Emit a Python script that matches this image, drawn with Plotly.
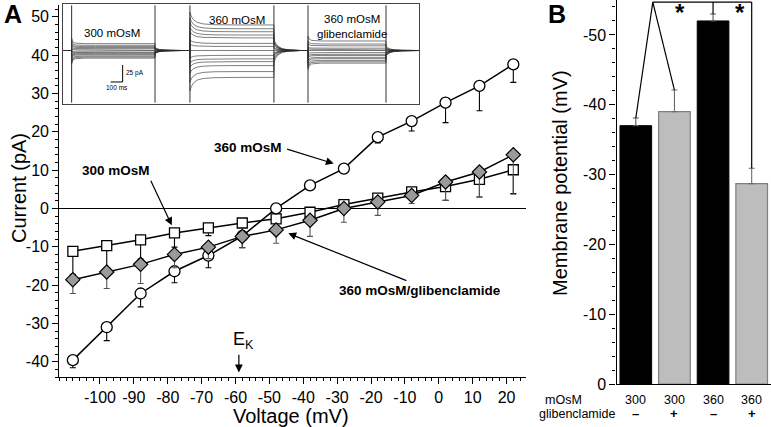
import plotly.graph_objects as go

W, H_REF = 771, 427
H_FIG = 436          # page is captured slightly taller than the window and squeezed to 427
FONT = "Liberation Sans, Arial, Helvetica, sans-serif"

# ------------------------- data: panel A (I-V) -------------------------
voltage = [-108, -98, -88, -78, -68, -58, -48, -38, -28, -18, -8, 2, 12, 22]
i_300 = [-11.2, -9.7, -8.2, -6.4, -5.1, -3.8, -2.7, -1.0, 1.0, 2.7, 4.3, 5.7, 7.6, 10.1]
err_300 = [6.0, 6.0, 5.0, 3.7, 2.0, 1.0, 0.8, 0.6, 0.8, 1.2, 1.5, 3.6, 4.6, 6.2]
i_360 = [-39.6, -31.0, -22.2, -16.4, -12.3, -7.2, 0.0, 6.0, 10.4, 18.6, 22.8, 27.6, 32.0, 37.6]
err_360 = [2.0, 3.5, 3.5, 3.0, 3.2, 3.0, 0.3, 0.3, 0.3, 1.5, 2.6, 5.2, 6.5, 4.7]
i_glib = [-18.6, -16.6, -14.6, -12.0, -10.1, -7.3, -5.6, -3.1, 0.0, 1.7, 3.4, 6.9, 9.5, 14.0]
err_glib = [3.6, 4.3, 5.0, 3.5, 3.0, 3.0, 3.5, 4.2, 3.6, 3.5, 2.1, 4.8, 6.5, 10.3]
E_K = -59

volt_ticks = [-100, -90, -80, -70, -60, -50, -40, -30, -20, -10, 0, 10, 20]
volt_labels = ["-100", "-90", "-80", "-70", "-60", "-50", "-40", "-30", "-20", "-10", "0", "10", "20"]
cur_ticks = [-40, -30, -20, -10, 0, 10, 20, 30, 40, 50]
cur_labels = ["-40", "-30", "-20", "-10", "0", "10", "20", "30", "40", "50"]

# ------------------------- data: inset (current traces) -------------------------
inset_names = ["300 mOsM", "360 mOsM", "360 mOsM<br>glibenclamide"]
inset_levels = [i_300, i_360, i_glib]          # steady-state current of each sweep (pA)
inset_start = [0, 992, 1975]                   # ms
inset_on = [72, 1058, 2042]
inset_off = [767, 1758, 2692]
inset_end = [1000, 1975, 2967]
relax_t = [0, 10, 30, 60, 110, 200, 400]       # ms after step onset
relax_f = [[1.8, 1.25, 1.08, 1.02, 1.0, 1.0, 1.0],
           [1.5, 1.35, 1.2, 1.1, 1.04, 1.01, 1.0],
           [1.5, 1.2, 1.06, 1.02, 1.0, 1.0, 1.0]]
tail_t = [0, 12, 35, 70, 130, 220]             # ms after step offset
tail_f = [0.45, 0.3, 0.16, 0.07, 0.02, 0.0]

# ------------------------- data: panel B -------------------------
b_mosm = ["300", "300", "360", "360"]
b_glib = ["\u2013", "+", "\u2013", "+"]
vm = [-37.0, -39.0, -52.0, -28.7]
vm_err = [1.1, 3.1, 1.0, 2.2]
vm_ticks = [0, -10, -20, -30, -40, -50]
vm_labels = ["0", "-10", "-20", "-30", "-40", "-50"]


def px(x):
    return x / W


def py(y):
    return 1 - y / H_REF


fig = go.Figure()

# ---------------- Panel A traces ----------------
n = len(voltage)
fig.add_trace(go.Scatter(
    x=voltage, y=i_300, mode="lines+markers", xaxis="x", yaxis="y",
    line=dict(color="black", width=1.5),
    marker=dict(symbol="square", size=10, color="white", line=dict(color="black", width=1.3)),
    error_y=dict(type="data", symmetric=False, array=[0] * n, arrayminus=err_300,
                 color="black", thickness=1.1, width=3)))
fig.add_trace(go.Scatter(
    x=voltage, y=i_360, mode="lines+markers", xaxis="x", yaxis="y",
    line=dict(color="black", width=1.5),
    marker=dict(symbol="circle", size=11, color="white", line=dict(color="black", width=1.3)),
    error_y=dict(type="data", symmetric=False, array=[0] * n, arrayminus=err_360,
                 color="black", thickness=1.1, width=3)))
fig.add_trace(go.Scatter(
    x=voltage, y=i_glib, mode="lines+markers", xaxis="x", yaxis="y",
    line=dict(color="black", width=1.5),
    marker=dict(symbol="diamond", size=11, color="#9a9a9a", line=dict(color="black", width=1.2)),
    error_y=dict(type="data", symmetric=False, array=[0] * n, arrayminus=err_glib,
                 color="#555555", thickness=1.1, width=3)))

# ---------------- Inset traces ----------------
Y3 = [-78.7, 68.4]
for k in range(3):
    xs, ys = [], []
    for lvl in inset_levels[k]:
        xs += [inset_start[k], inset_on[k]] + [inset_on[k] + t for t in relax_t] + [inset_off[k]] \
              + [inset_off[k] + t for t in tail_t] + [inset_end[k], None]
        ys += [0, 0] + [lvl * f for f in relax_f[k]] + [lvl] + [lvl * f for f in tail_f] + [0, None]
    fig.add_trace(go.Scatter(x=xs, y=ys, mode="lines", xaxis="x3", yaxis="y3",
                             line=dict(color="#2a2a2a", width=0.6), hoverinfo="skip"))
    sx = [inset_on[k], inset_on[k], None, inset_off[k], inset_off[k], None]
    sy = [Y3[0] + 2, Y3[1] - 2, None, Y3[0] + 2, Y3[1] - 2, None]
    fig.add_trace(go.Scatter(x=sx, y=sy, mode="lines", xaxis="x3", yaxis="y3",
                             line=dict(color="#333333", width=1), hoverinfo="skip"))

# scale bar (100 ms, 25 pA)
fig.add_trace(go.Scatter(x=[397, 497, 497], y=[-46.3, -46.3, -21.3], mode="lines",
                         xaxis="x3", yaxis="y3", line=dict(color="black", width=1)))

# ---------------- Panel B bars ----------------
blk = [0, 2]
gry = [1, 3]
fig.add_trace(go.Bar(
    x=blk, y=[vm[i] for i in blk], xaxis="x2", yaxis="y2", width=0.82,
    marker=dict(color="black", line=dict(color="black", width=1)),
    error_y=dict(type="data", symmetric=False, array=[0, 0], arrayminus=[vm_err[i] for i in blk],
                 color="#555555", thickness=1.1, width=3)))
fig.add_trace(go.Bar(
    x=gry, y=[vm[i] for i in gry], xaxis="x2", yaxis="y2", width=0.82,
    marker=dict(color="#bdbdbd", line=dict(color="#7f7f7f", width=1.2)),
    error_y=dict(type="data", symmetric=False, array=[0, 0], arrayminus=[vm_err[i] for i in gry],
                 color="#6a6a6a", thickness=1.1, width=3)))

# significance brackets
top = -54.7
join = 0.44
shapes = []
def seg(x0, y0, x1, y1):
    shapes.append(dict(type="line", xref="x2", yref="y2", x0=x0, y0=y0, x1=x1, y1=y1,
                       line=dict(color="black", width=1.2)))
seg(join, top, 3, top)
seg(join, top, 0, vm[0] - vm_err[0])
seg(join, top, 1, vm[1] - vm_err[1])
seg(2, top, 2, vm[2] - vm_err[2])
seg(3, top, 3, vm[3] - vm_err[3])

# ---------------- Annotations ----------------
ann = []
def txt(x, y, s, size, bold=False, xref="paper", yref="paper", angle=0, xanchor="center", yanchor="middle", color="black"):
    ann.append(dict(x=x, y=y, xref=xref, yref=yref, text=(f"<b>{s}</b>" if bold else s),
                    showarrow=False, textangle=angle, xanchor=xanchor, yanchor=yanchor,
                    font=dict(size=size, family=FONT, color=color)))

def arrow(xh, yh, xt, yt):
    ann.append(dict(x=xh, y=yh, ax=xt, ay=yt, xref="x", yref="y", axref="x", ayref="y",
                    text="", showarrow=True, arrowhead=2, arrowsize=1.3, arrowwidth=1.2,
                    arrowcolor="black"))

txt(px(13), py(14), "A", 25, bold=True)
txt(px(557), py(14), "B", 25, bold=True)
txt(px(19), py(188), "Current (pA)", 20, angle=-90)
txt(px(291), py(416), "Voltage (mV)", 20)
txt(px(560), py(183), "Membrane potential (mV)", 20, angle=-90)

# IV labels
txt(-56.3, 15.8, "360 mOsM", 13.5, bold=True, xref="x", yref="y")
arrow(-31.0, 11.7, -45.2, 15.6)
txt(-95.3, 9.8, "300 mOsM", 13.5, bold=True, xref="x", yref="y")
arrow(-78.8, -4.4, -85.2, 7.6)
txt(-5.4, -21.5, "360 mOsM/glibenclamide", 13.5, bold=True, xref="x", yref="y")
arrow(-44.4, -6.5, -9.1, -19.0)
# E_K
txt(E_K + 1.3, -34.6, "E<sub>K</sub>", 18, xref="x", yref="y")
arrow(E_K, -42.8, E_K, -37.8)

# inset labels
inset_label_x = [408, 1450, 2408]
inset_label_y = [25.7, 44.9, 36.0]
for k in range(3):
    txt(inset_label_x[k], inset_label_y[k], inset_names[k], 11.5, xref="x3", yref="y3")
txt(505, -33, "25 pA", 6.5, xref="x3", yref="y3", xanchor="left")
txt(447, -54, "100 ms", 6.5, xref="x3", yref="y3")

# panel B labels
for i in range(4):
    txt(i, py(400), b_mosm[i], 12.5, xref="x2")
    txt(i, py(413.5), b_glib[i], 13, bold=True, xref="x2")
txt(px(584), py(400), "mOsM", 12.5, xanchor="right")
txt(px(617), py(413.5), "glibenclamide", 12.5, xanchor="right")
txt(1.14, py(-3), "*", 24, bold=True, xref="x2", yanchor="top")
txt(2.71, py(-3), "*", 24, bold=True, xref="x2", yanchor="top")

axis_common = dict(showgrid=False, showline=True, linecolor="black", linewidth=1.3,
                   ticks="outside", ticklen=6, tickwidth=1.2, tickcolor="black",
                   tickfont=dict(size=16, family=FONT, color="black"))
minor = dict(ticks="outside", ticklen=3, tickwidth=1, tickcolor="black", dtick=2, showgrid=False)

fig.update_layout(
    width=W, height=H_FIG, margin=dict(l=0, r=0, t=0, b=0),
    paper_bgcolor="white", plot_bgcolor="white", showlegend=False,
    barmode="overlay", font=dict(family=FONT, color="black"),
    xaxis=dict(domain=[px(59.3), px(525.5)], range=[-112, 25.6], anchor="y",
               tickvals=volt_ticks, ticktext=volt_labels, zeroline=False, minor=minor,
               **axis_common),
    yaxis=dict(domain=[py(377), py(5)], range=[-44, 53.1], anchor="x",
               tickvals=cur_ticks, ticktext=cur_labels, zeroline=True, zerolinecolor="black",
               zerolinewidth=1.3, minor=minor, **axis_common),
    xaxis2=dict(domain=[px(616.5), 1.0], range=[-0.5, 3.5], anchor="y2", showticklabels=False,
                ticks="", showgrid=False, zeroline=False, showline=True, linecolor="black", linewidth=1.3),
    yaxis2=dict(domain=[py(384), 1.0], range=[0, -55], anchor="x2",
                tickvals=vm_ticks, ticktext=vm_labels, zeroline=False, minor=minor, **axis_common),
    xaxis3=dict(domain=[px(63), px(419)], range=[0, 2967], anchor="y3", showticklabels=False,
                ticks="", showgrid=False, zeroline=False, showline=True, mirror=True,
                linecolor="#444444", linewidth=1),
    yaxis3=dict(domain=[py(104), py(4)], range=Y3, anchor="x3", showticklabels=False,
                ticks="", showgrid=False, zeroline=False, showline=True, mirror=True,
                linecolor="#444444", linewidth=1),
    shapes=shapes, annotations=ann,
)

css_js = (
    "var s=document.createElement('style');"
    "s.textContent='html,body{margin:0;padding:0;overflow:hidden;}';"
    "document.head.appendChild(s);"
)
fig.write_html("out.html", config={"displayModeBar": False, "responsive": False},
               post_script=css_js)
